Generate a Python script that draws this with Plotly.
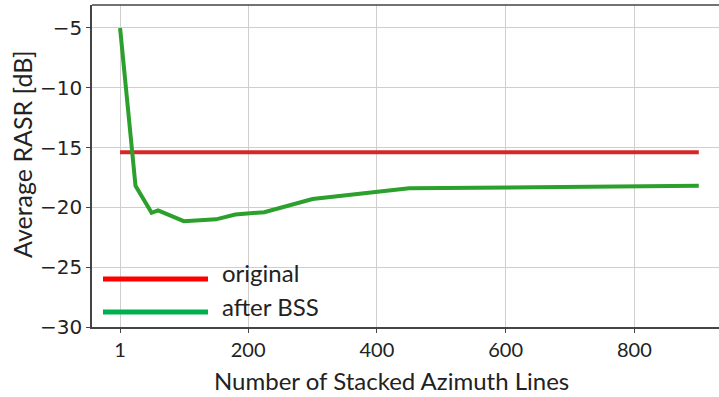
import plotly.graph_objects as go

# Stacked azimuth lines vs. average RASR
stacked_lines = [1, 25, 50, 60, 100, 150, 180, 225, 300, 450, 900]
rasr_after_bss = [-5.0, -18.2, -20.45, -20.25, -21.15, -21.0, -20.6, -20.4, -19.3, -18.4, -18.2]
original_lines = [1, 900]
rasr_original = [-15.4, -15.4]

x_ticks = [1, 200, 400, 600, 800]
y_ticks = [-30, -25, -20, -15, -10, -5]

fig = go.Figure()
fig.add_trace(go.Scatter(x=original_lines, y=rasr_original, mode="lines",
                         line=dict(color="#d62728", width=4), name="original"))
fig.add_trace(go.Scatter(x=stacked_lines, y=rasr_after_bss, mode="lines",
                         line=dict(color="#2ca02c", width=4), name="after BSS"))

fig.update_layout(
    width=719, height=397,
    margin=dict(l=92, r=0, t=5, b=70),
    plot_bgcolor="white", paper_bgcolor="white",
    showlegend=False,
    font=dict(family="DejaVu Sans", color="#222"),
)
fig.update_xaxes(
    range=[-42.6, 931.4], tickvals=x_ticks, ticktext=[str(v) for v in x_ticks],
    showgrid=True, gridcolor="#cfcfcf", gridwidth=1, zeroline=False,
    showline=True, linecolor="#444", linewidth=1.5,
    ticks="outside", ticklen=4, tickcolor="#444",
    tickfont=dict(family="Lato", size=20, color="#222"),
)
fig.update_yaxes(
    range=[-30, -3.08], tickvals=y_ticks,
    showgrid=True, gridcolor="#cfcfcf", gridwidth=1, zeroline=False,
    showline=True, linecolor="#444", linewidth=1.5,
    ticks="outside", ticklen=4, tickcolor="#444",
    tickfont=dict(family="DejaVu Sans", size=20, color="#222"),
)

# top frame line
fig.add_shape(type="line", xref="paper", yref="paper", x0=0, x1=1, y0=1, y1=1,
              line=dict(color="#444", width=1.5))

# axis titles
fig.add_annotation(text="Average RASR [dB]", xref="paper", yref="paper",
                   x=(22 - 92) / 627, y=(327 - 154) / 322, textangle=-90,
                   xanchor="center", yanchor="middle", showarrow=False,
                   font=dict(family="Lato", size=25, color="#222"))
fig.add_annotation(text="Number of Stacked Azimuth Lines", xref="paper", yref="paper",
                   x=(391 - 92) / 627, y=(327 - 380) / 322, xanchor="center",
                   yanchor="middle", showarrow=False,
                   font=dict(family="Lato", size=24, color="#222"))

# legend drawn in paper space
legend_items = [("original", "#ff0000", 279, 272), ("after BSS", "#00b050", 312, 306)]
for label, color, py, ty in legend_items:
    yp = (327 - py) / 322
    fig.add_shape(type="line", xref="paper", yref="paper",
                  x0=(103 - 92) / 627, x1=(208 - 92) / 627, y0=yp, y1=yp,
                  line=dict(color=color, width=5))
    fig.add_annotation(text=label, xref="paper", yref="paper",
                       x=(220 - 92) / 627, y=(327 - ty) / 322,
                       xanchor="left", yanchor="middle",
                       showarrow=False, font=dict(family="Lato", size=24, color="#222"))

fig.write_html("out.html")
